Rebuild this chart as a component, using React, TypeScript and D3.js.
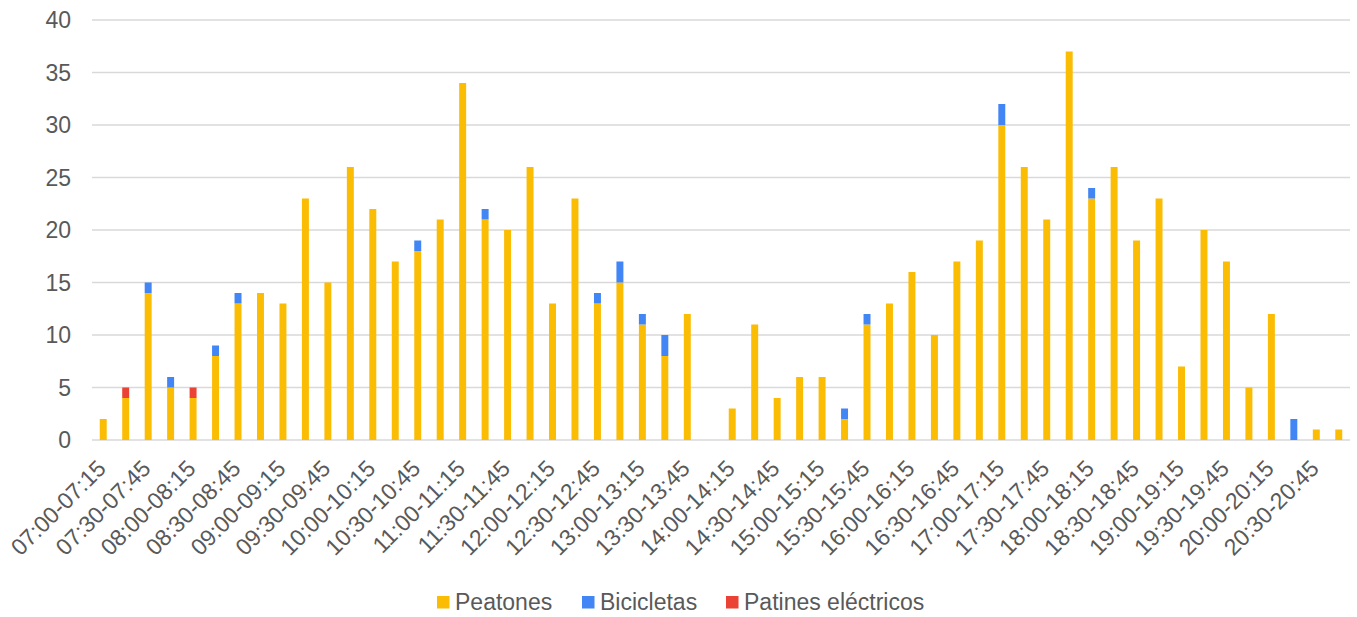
import React from "react";
import * as d3 from "d3";

const categories: string[] = [
  "07:00-07:15","07:15-07:30","07:30-07:45","07:45-08:00",
  "08:00-08:15","08:15-08:30","08:30-08:45","08:45-09:00",
  "09:00-09:15","09:15-09:30","09:30-09:45","09:45-10:00",
  "10:00-10:15","10:15-10:30","10:30-10:45","10:45-11:00",
  "11:00-11:15","11:15-11:30","11:30-11:45","11:45-12:00",
  "12:00-12:15","12:15-12:30","12:30-12:45","12:45-13:00",
  "13:00-13:15","13:15-13:30","13:30-13:45","13:45-14:00",
  "14:00-14:15","14:15-14:30","14:30-14:45","14:45-15:00",
  "15:00-15:15","15:15-15:30","15:30-15:45","15:45-16:00",
  "16:00-16:15","16:15-16:30","16:30-16:45","16:45-17:00",
  "17:00-17:15","17:15-17:30","17:30-17:45","17:45-18:00",
  "18:00-18:15","18:15-18:30","18:30-18:45","18:45-19:00",
  "19:00-19:15","19:15-19:30","19:30-19:45","19:45-20:00",
  "20:00-20:15","20:15-20:30","20:30-20:45","20:45-21:00",
];

const peatones: number[] = [
  2, 4, 14, 5, 4, 8, 13, 14,
  13, 23, 15, 26, 22, 17, 18, 21,
  34, 21, 20, 26, 13, 23, 13, 15,
  11, 8, 12, 0, 3, 11, 4, 6,
  6, 2, 11, 13, 16, 10, 17, 19,
  30, 26, 21, 37, 23, 26, 19, 23,
  7, 20, 17, 5, 12, 0, 1, 1,
];

const bicicletas: number[] = [
  0, 0, 1, 1, 0, 1, 1, 0,
  0, 0, 0, 0, 0, 0, 1, 0,
  0, 1, 0, 0, 0, 0, 1, 2,
  1, 2, 0, 0, 0, 0, 0, 0,
  0, 1, 1, 0, 0, 0, 0, 0,
  2, 0, 0, 0, 1, 0, 0, 0,
  0, 0, 0, 0, 0, 2, 0, 0,
];

const patines: number[] = [
  0, 1, 0, 0, 1, 0, 0, 0,
  0, 0, 0, 0, 0, 0, 0, 0,
  0, 0, 0, 0, 0, 0, 0, 0,
  0, 0, 0, 0, 0, 0, 0, 0,
  0, 0, 0, 0, 0, 0, 0, 0,
  0, 0, 0, 0, 0, 0, 0, 0,
  0, 0, 0, 0, 0, 0, 0, 0,
];

const seriesNames: string[] = ["Peatones", "Bicicletas", "Patines eléctricos"];
const seriesColors: string[] = ["#FBBC04", "#4285F4", "#EA4335"];
const yTicks: number[] = [0, 5, 10, 15, 20, 25, 30, 35, 40];

const W = 1357;
const H = 617;
const M = { left: 92, right: 7, top: 20, bottom: 177 };
const FONT = "'Liberation Sans', Arial, sans-serif";
const TEXT = "#595959";
const FS = 23;

export default function App() {
  const x = d3
    .scaleBand<string>()
    .domain(categories)
    .range([M.left, W - M.right])
    .paddingInner(0.69)
    .paddingOuter(0.345);
  const y = d3.scaleLinear().domain([0, 40]).range([H - M.bottom, M.top]);

  const rows = categories.map((c, i) => ({
    cat: c,
    s0: peatones[i],
    s1: bicicletas[i],
    s2: patines[i],
  }));
  const stack = d3.stack<any>().keys(["s0", "s1", "s2"]);
  const layers = stack(rows);

  const legendItems = [
    { x: 437, label: seriesNames[0], color: seriesColors[0] },
    { x: 582, label: seriesNames[1], color: seriesColors[1] },
    { x: 726, label: seriesNames[2], color: seriesColors[2] },
  ];

  return (
    <svg
      width={W}
      height={H}
      style={{ position: "absolute", left: 0, top: 0, background: "#fff" }}
      fontFamily={FONT}
    >
      {yTicks.map((t) => (
        <g key={t}>
          <line
            x1={M.left}
            x2={W - M.right}
            y1={y(t)}
            y2={y(t)}
            stroke="#d9d9d9"
            strokeWidth={1.4}
          />
          <text
            x={71}
            y={y(t)}
            dy="0.35em"
            textAnchor="end"
            fontSize={FS}
            fill={TEXT}
          >
            {t}
          </text>
        </g>
      ))}
      {layers.map((layer, li) => (
        <g key={li} fill={seriesColors[li]}>
          {layer.map((d, i) =>
            d[1] - d[0] > 0 ? (
              <rect
                key={i}
                x={x(categories[i])}
                width={x.bandwidth()}
                y={y(d[1])}
                height={y(d[0]) - y(d[1])}
              />
            ) : null
          )}
        </g>
      ))}
      {categories.map((c, i) =>
        i % 2 === 0 ? (
          <text
            key={c}
            transform={`translate(${(x(c) as number) + x.bandwidth() / 2 + 4},${H - M.bottom + 30}) rotate(-45)`}
            textAnchor="end"
            fontSize={FS}
            fill={TEXT}
          >
            {c}
          </text>
        ) : null
      )}
      {legendItems.map((it) => (
        <g key={it.label}>
          <rect x={it.x} y={596} width={12.5} height={12.5} fill={it.color} />
          <text x={it.x + 18} y={610} fontSize={FS} fill={TEXT}>
            {it.label}
          </text>
        </g>
      ))}
    </svg>
  );
}
